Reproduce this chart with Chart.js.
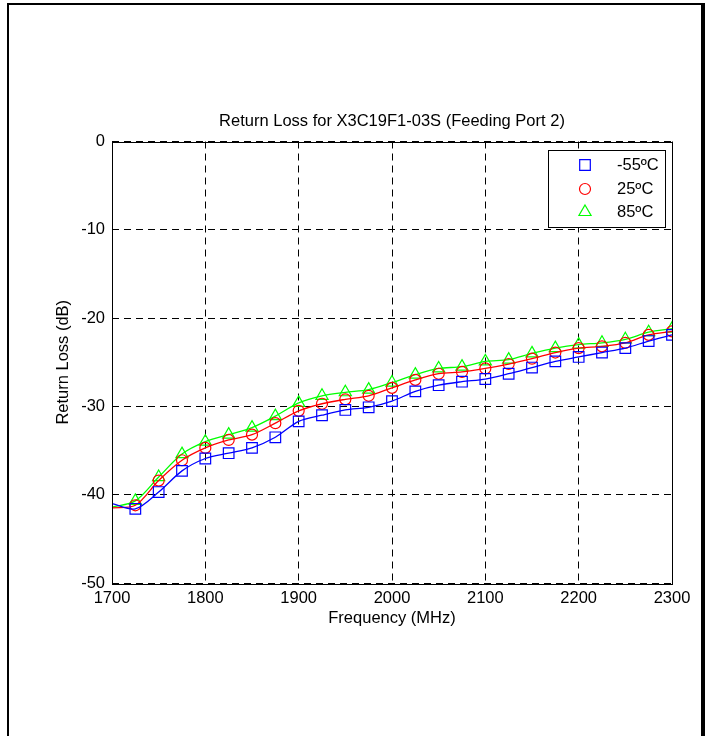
<!DOCTYPE html>
<html>
<head>
<meta charset="utf-8">
<script src="https://cdn.jsdelivr.net/npm/chart.js@4/dist/chart.umd.min.js"></script>
<style>
  body { margin: 0; background: #fff; }
  #frame { position: absolute; left: 7px; top: 3px; width: 692px; height: 760px;
           border-left: 2px solid #000; border-top: 2px solid #000; border-right: 4px solid #000; }
  #wrap { position: absolute; left: 0; top: 0; width: 706px; height: 736px; }
</style>
</head>
<body>
<div id="frame"></div>
<div id="wrap"><canvas id="rl" width="706" height="736"></canvas></div>
<script>
// frequency points (MHz), markers every 25 MHz from 1725
const freqs = [1700, 1725, 1750, 1775, 1800, 1825, 1850, 1875, 1900, 1925, 1950, 1975, 2000,
               2025, 2050, 2075, 2100, 2125, 2150, 2175, 2200, 2225, 2250, 2275, 2300];
const lossM55 = [-41.0, -41.6, -39.7, -37.3, -35.9, -35.3, -34.7, -33.5, -31.7, -31.0, -30.4, -30.1, -29.4,
                 -28.3, -27.6, -27.2, -26.9, -26.3, -25.6, -24.9, -24.4, -23.9, -23.4, -22.6, -21.9];
const loss25 = [-41.5, -41.2, -38.4, -36.1, -34.7, -33.8, -33.2, -31.9, -30.5, -29.7, -29.2, -28.8, -27.9,
                -27.0, -26.3, -26.1, -25.7, -25.2, -24.6, -23.9, -23.4, -23.2, -22.8, -21.9, -21.5];
const loss85 = [-41.4, -40.7, -38.0, -35.4, -34.0, -33.2, -32.4, -31.1, -29.6, -28.8, -28.4, -28.1, -27.3,
                -26.4, -25.7, -25.5, -24.9, -24.7, -24.0, -23.4, -23.0, -22.8, -22.4, -21.6, -21.2];
const seriesLabels = ['-55\u00BAC', '25\u00BAC', '85\u00BAC'];
const xTicks = [1700, 1800, 1900, 2000, 2100, 2200, 2300];
const yTicks = [0, -10, -20, -30, -40, -50];

const FONT = 'Liberation Sans, Arial, sans-serif';
const FS = 16.5;
Chart.defaults.font.family = FONT;
Chart.defaults.font.size = FS;
Chart.defaults.color = '#000';

function pts(vals) {
  return freqs.map((f, i) => ({ x: f, y: vals[i] }));
}
function radii(r) {
  return freqs.map((f, i) => (i === 0 ? 0 : r));
}

function makeSet(label, vals, color, style, r) {
  return {
    label: label,
    data: pts(vals),
    borderColor: color,
    backgroundColor: 'rgba(0,0,0,0)',
    borderWidth: 1.3,
    pointStyle: style,
    pointRadius: radii(r),
    pointBorderColor: color,
    pointBorderWidth: 1.2,
    pointBackgroundColor: 'rgba(0,0,0,0)',
    tension: 0.3,
    fill: false
  };
}

const datasets = [
  makeSet(seriesLabels[0], lossM55, '#0000ff', 'rect', 7.5),
  makeSet(seriesLabels[1], loss25, '#ff0000', 'circle', 5.5),
  makeSet(seriesLabels[2], loss85, '#00ff00', 'triangle', 7)
];

// plot box, title and in-plot legend
const overlay = {
  id: 'overlay',
  afterDraw(chart) {
    const ctx = chart.ctx;
    const a = chart.chartArea;
    ctx.save();
    ctx.setLineDash([]);
    ctx.strokeStyle = '#000';
    ctx.lineWidth = 1;
    ctx.strokeRect(Math.round(a.left) + 0.5, Math.round(a.top) + 0.5,
                   Math.round(a.right - a.left), Math.round(a.bottom - a.top));

    ctx.fillStyle = '#000';
    ctx.font = FS + 'px ' + FONT;
    ctx.textAlign = 'center';
    ctx.textBaseline = 'middle';
    ctx.fillText('Return Loss for X3C19F1-03S (Feeding Port 2)', (a.left + a.right) / 2, 121);

    // legend box
    const bx = 548, by = 150, bw = 117, bh = 77;
    ctx.fillStyle = '#fff';
    ctx.fillRect(bx, by, bw, bh);
    ctx.strokeRect(bx + 0.5, by + 0.5, bw, bh);
    const rowY = [165, 189, 212];
    chart.data.datasets.forEach((ds, i) => {
      ctx.strokeStyle = ds.borderColor;
      ctx.fillStyle = 'rgba(0,0,0,0)';
      ctx.lineWidth = 1.2;
      Chart.helpers.drawPoint(ctx, {
        pointStyle: ds.pointStyle,
        radius: ds.pointRadius[1],
        rotation: 0,
        borderWidth: 1.2
      }, 585, rowY[i]);
      ctx.fillStyle = '#000';
      ctx.textAlign = 'left';
      ctx.fillText(ds.label, 617, rowY[i]);
    });
    ctx.restore();
  }
};

new Chart(document.getElementById('rl'), {
  type: 'line',
  data: { datasets: datasets },
  plugins: [overlay],
  options: {
    responsive: false,
    animation: false,
    layout: { padding: { left: 54, top: 141.5, right: 34, bottom: 108 } },
    plugins: { legend: { display: false }, tooltip: { enabled: false } },
    scales: {
      x: {
        type: 'linear',
        min: 1700,
        max: 2300,
        afterBuildTicks: s => { s.ticks = xTicks.map(v => ({ value: v })); },
        afterFit: s => { s.height = 45; },
        ticks: { padding: 6, maxRotation: 0, callback: v => String(v) },
        grid: { color: '#000', lineWidth: 1, drawTicks: false },
        border: { display: false, dash: [7, 5] },
        title: { display: true, text: 'Frequency (MHz)', padding: 0 }
      },
      y: {
        min: -50,
        max: 0,
        afterBuildTicks: s => { s.ticks = yTicks.map(v => ({ value: v })); },
        afterFit: s => { s.width = 58; },
        ticks: { padding: 7, callback: v => String(v) },
        grid: { color: '#000', lineWidth: 1, drawTicks: false },
        border: { display: false, dash: [7, 5] },
        title: { display: true, text: 'Return Loss (dB)', padding: 0 }
      }
    }
  }
});
</script>
</body>
</html>
